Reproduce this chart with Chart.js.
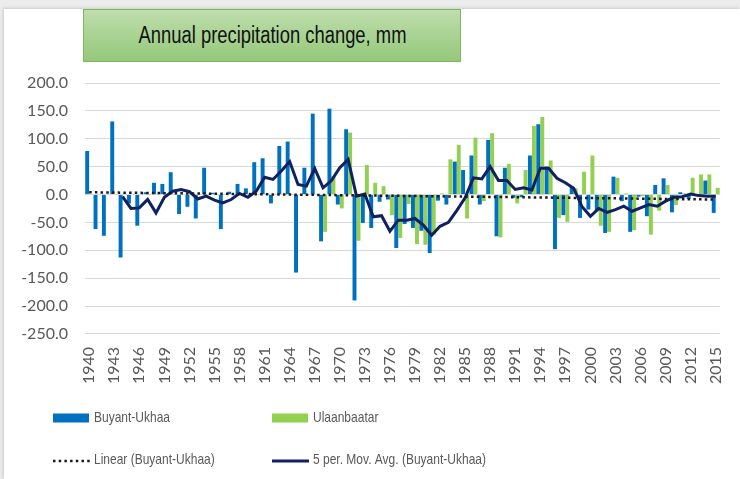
<!DOCTYPE html>
<html>
<head>
<meta charset="utf-8">
<title>Annual precipitation change, mm</title>
<script src="https://cdn.jsdelivr.net/npm/chart.js@4.4.1/dist/chart.umd.min.js"></script>
<style>
  html, body { margin: 0; padding: 0; background: #ececec; }
  #wrap { position: relative; width: 740px; height: 479px; overflow: hidden; }
  #panel { position: absolute; left: 4px; top: 9px; right: 0; bottom: 0; background: #fff;
           box-shadow: -1px -1px 3px rgba(0,0,0,0.15); }
  #title { position: absolute; left: 83px; top: 9px; width: 376px; height: 51px; z-index: 2;
           border: 1px solid #7db75e; background: linear-gradient(#bfdead, #94c87a);
           font: 23px 'Liberation Sans', sans-serif; color: #111;
           display: flex; align-items: center; justify-content: center; }
  #title span { display: inline-block; transform: scaleX(0.8); white-space: nowrap; }
  canvas { position: absolute; left: 0; top: 0; }
</style>
</head>
<body>
<div id="wrap">
  <div id="panel"></div>
  <div id="title"><span>Annual precipitation change, mm</span></div>
  <canvas id="precip-chart" width="740" height="479"></canvas>
</div>
<script>
// years on the category axis
const years = Array.from({ length: 76 }, (_, i) => String(1940 + i));

// Buyant-Ukhaa, 1940-2015
const buyantUkhaa = [
  78, -62, -74, 131, -113, -16, -56, 4, 21, 19,
  40, -35, -22, -43, 48, 3, -62, 5, 19, 11,
  58, 65, -16, 87, 95, -140, 48, 145, -84, 154,
  -18, 117, -190, -51, -60, -13, -9, -96, -53, -60,
  -65, -105, -11, -18, 59, 44, 70, -18, 98, -75,
  48, -6, -5, 70, 126, 50, -98, -37, 14, -42,
  -27, -30, -69, 32, -12, -67, -4, -39, 17, 29,
  -32, 4, -8, -3, 25, -33
];

// Ulaanbaatar, only from 1968
const ulaanbaatar = [
  null, null, null, null, null, null, null, null, null, null,
  null, null, null, null, null, null, null, null, null, null,
  null, null, null, null, null, null, null, null, -67, 33,
  -25, 111, -83, 53, 21, 15, -37, -78, -17, -89,
  -90, -72, 2, 63, 89, -43, 102, -12, 110, -77,
  55, -16, 44, 123, 139, 61, -42, -49, 11, 41,
  70, -56, -67, 30, 2, -64, -3, -72, -29, 17,
  -19, 2, 30, 36, 36, 12
];

// 5 per. moving average of Buyant-Ukhaa (as drawn)
const movAvg = [
  null, null, null, null, -4, -25, -24, -9, -33, -5,
  6, 9, 5, -8, -3, -10, -15, -9, 2, -5,
  6, 31, 27, 42, 59, 18, 15, 47, 12, 25,
  48, 63, -3, 1, -40, -38, -66, -46, -46, -43,
  -55, -73, -57, -50, -29, -6, 30, 28, 50, 25,
  25, 9, 12, 8, 47, 47, 29, 21, 11, -22,
  -39, -25, -32, -27, -21, -30, -24, -18, -21, -12,
  -5, -4, 1, -2, -3, -3
];

// linear trend end points
const trendYears = ['1940', '2015'];
const trendValues = [4, -9];

const yTicks = { min: -250, max: 200, step: 50 };

const tickColor = '#595959';
const legendFont = "15px 'Liberation Sans', sans-serif";

// legend in 2 columns like the excel one
const legendPlugin = {
  id: 'gridLegend',
  afterDraw(chart) {
    const ctx = chart.ctx;
    const colX = [53, 272];
    const rowY = [418, 460];
    ctx.save();
    ctx.font = legendFont;
    ctx.textBaseline = 'middle';
    chart.data.datasets.forEach((ds, i) => {
      const x = colX[i % 2];
      const y = rowY[Math.floor(i / 2)];
      if (ds.type === 'bar') {
        ctx.fillStyle = ds.backgroundColor;
        ctx.fillRect(x, y - 4.5, 36, 9);
      } else {
        ctx.strokeStyle = ds.borderColor;
        ctx.lineWidth = ds.borderWidth;
        ctx.setLineDash(ds.borderDash || []);
        ctx.beginPath();
        ctx.moveTo(x, y + 1);
        ctx.lineTo(x + 37, y + 1);
        ctx.stroke();
        ctx.setLineDash([]);
      }
      // narrow text, the original font is condensed
      ctx.save();
      ctx.translate(x + 41, y);
      ctx.scale(0.8, 1);
      ctx.fillStyle = tickColor;
      ctx.fillText(ds.label, 0, 0);
      ctx.restore();
    });
    ctx.restore();
  }
};

Chart.defaults.font.family = 'Lato';

const ctx = document.getElementById('precip-chart').getContext('2d');

const precipChart = new Chart(ctx, {
  data: {
    labels: years,
    datasets: [{
      type: 'bar',
      label: 'Buyant-Ukhaa',
      data: buyantUkhaa,
      backgroundColor: '#0070c0',
      categoryPercentage: 0.96,
      barPercentage: 0.98,
      order: 2
    }, {
      type: 'bar',
      label: 'Ulaanbaatar',
      data: ulaanbaatar,
      backgroundColor: '#92d050',
      categoryPercentage: 0.96,
      barPercentage: 0.98,
      order: 2
    }, {
      type: 'line',
      label: 'Linear (Buyant-Ukhaa)',
      data: trendYears.map((yr, i) => ({ x: yr, y: trendValues[i] })),
      borderColor: '#1a1a1a',
      borderWidth: 2.5,
      borderDash: [2.5, 3.2],
      pointRadius: 0,
      order: 0
    }, {
      type: 'line',
      label: '5 per. Mov. Avg. (Buyant-Ukhaa)',
      data: movAvg,
      borderColor: '#0f2160',
      borderWidth: 3,
      pointRadius: 0,
      tension: 0,
      order: 1
    }]
  },
  options: {
    responsive: false,
    animation: false,
    layout: { padding: { left: 5, right: 14, top: 83, bottom: 90 } },
    scales: {
      x: {
        grid: { display: false },
        border: { display: false },
        ticks: {
          autoSkip: false,
          minRotation: 90,
          maxRotation: 90,
          padding: 5,
          color: tickColor,
          font: { size: 16 },
          callback: function (val, idx) {
            return idx % 3 === 0 ? this.getLabelForValue(val) : '';
          }
        }
      },
      y: {
        min: yTicks.min,
        max: yTicks.max,
        afterFit(scale) { scale.width = 80; },
        grid: { color: '#d9d9d9', drawTicks: false },
        border: { display: false },
        ticks: {
          stepSize: yTicks.step,
          padding: 17,
          color: tickColor,
          font: { size: 16 },
          callback: v => v.toFixed(1)
        }
      }
    },
    plugins: {
      legend: { display: false },
      tooltip: { enabled: false }
    }
  },
  plugins: [legendPlugin]
});
</script>
</body>
</html>
